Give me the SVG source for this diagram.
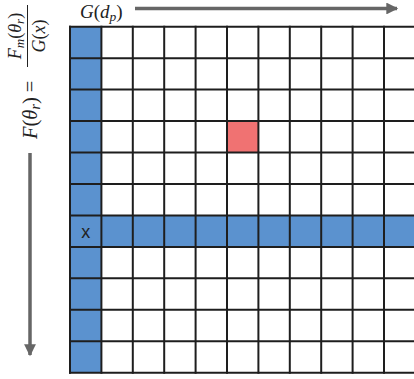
<svg xmlns="http://www.w3.org/2000/svg" width="414" height="379" viewBox="0 0 414 379">
<defs>
<style>
.math{font-family:"Liberation Serif","Times New Roman",serif;font-style:italic;fill:#222}
.up{font-style:normal}
.blue{fill:#5b92cf}
.red{fill:#f07272}
.grid line{stroke:#1e1e1e;stroke-width:2}
.arrow{stroke:#666;stroke-width:3.5;fill:none}
</style>
<marker id="ah" viewBox="0 0 10 10" refX="9" refY="5" markerWidth="6.5" markerHeight="3.4" markerUnits="strokeWidth" orient="auto">
<path d="M0,0 L10,5 L0,10 Z" fill="#666"/>
</marker>
</defs>
<rect width="414" height="379" fill="#fff"/>
<g id="cells">
<rect class="blue" x="70" y="26.7" width="31.4" height="346"/>
<rect class="blue" x="70" y="216" width="344" height="31.4"/>
<rect id="target" class="red" x="226.7" y="121.7" width="31.4" height="31.2"/>
</g>
<g id="grid" class="grid">
<line x1="70" y1="25.7" x2="70" y2="373.7"/>
<line x1="101.4" y1="25.7" x2="101.4" y2="373.7"/>
<line x1="132.8" y1="25.7" x2="132.8" y2="373.7"/>
<line x1="164.2" y1="25.7" x2="164.2" y2="373.7"/>
<line x1="195.6" y1="25.7" x2="195.6" y2="373.7"/>
<line x1="227" y1="25.7" x2="227" y2="373.7"/>
<line x1="258.4" y1="25.7" x2="258.4" y2="373.7"/>
<line x1="289.8" y1="25.7" x2="289.8" y2="373.7"/>
<line x1="321.2" y1="25.7" x2="321.2" y2="373.7"/>
<line x1="352.6" y1="25.7" x2="352.6" y2="373.7"/>
<line x1="384" y1="25.7" x2="384" y2="373.7"/>
<line x1="69" y1="26.7" x2="414" y2="26.7"/>
<line x1="69" y1="58.2" x2="414" y2="58.2"/>
<line x1="69" y1="89.6" x2="414" y2="89.6"/>
<line x1="69" y1="121.1" x2="414" y2="121.1"/>
<line x1="69" y1="152.5" x2="414" y2="152.5"/>
<line x1="69" y1="184" x2="414" y2="184"/>
<line x1="69" y1="215.4" x2="414" y2="215.4"/>
<line x1="69" y1="246.9" x2="414" y2="246.9"/>
<line x1="69" y1="278.3" x2="414" y2="278.3"/>
<line x1="69" y1="309.8" x2="414" y2="309.8"/>
<line x1="69" y1="341.2" x2="414" y2="341.2"/>
<line x1="69" y1="372.7" x2="414" y2="372.7"/>
</g>
<g id="cell-x">
<text x="85.7" y="238" font-family="Liberation Sans, Arial, sans-serif" font-size="18" text-anchor="middle" fill="#222">x</text>
</g>
<g id="connectors">
<line class="arrow" x1="135" y1="8.5" x2="397" y2="8.5" marker-end="url(#ah)"/>
<line class="arrow" x1="30" y1="153" x2="30" y2="355" marker-end="url(#ah)"/>
</g>
<g id="label-top">
<text class="math" x="80" y="17.5" font-size="19">G<tspan class="up">(</tspan>d<tspan font-size="13.5" dy="3">p</tspan><tspan class="up" dy="-3">)</tspan></text>
</g>
<g id="label-left">
<text class="math" transform="translate(37,139) rotate(-90)" font-size="20.5">F<tspan class="up">(</tspan>θ<tspan font-size="14" dy="3">r</tspan><tspan class="up" dy="-3">) =</tspan></text>
<text class="math" transform="translate(21,36) rotate(-90)" font-size="18" text-anchor="middle">F<tspan font-size="13" dy="3">m</tspan><tspan class="up" dy="-3">(</tspan>θ<tspan font-size="13" dy="3">r</tspan><tspan class="up" dy="-3">)</tspan></text>
<line x1="27.5" y1="5" x2="27.5" y2="67" stroke="#222" stroke-width="1"/>
<text class="math" transform="translate(44.5,36) rotate(-90)" font-size="18" text-anchor="middle">G<tspan class="up">(</tspan>x<tspan class="up">)</tspan></text>
</g>
</svg>
